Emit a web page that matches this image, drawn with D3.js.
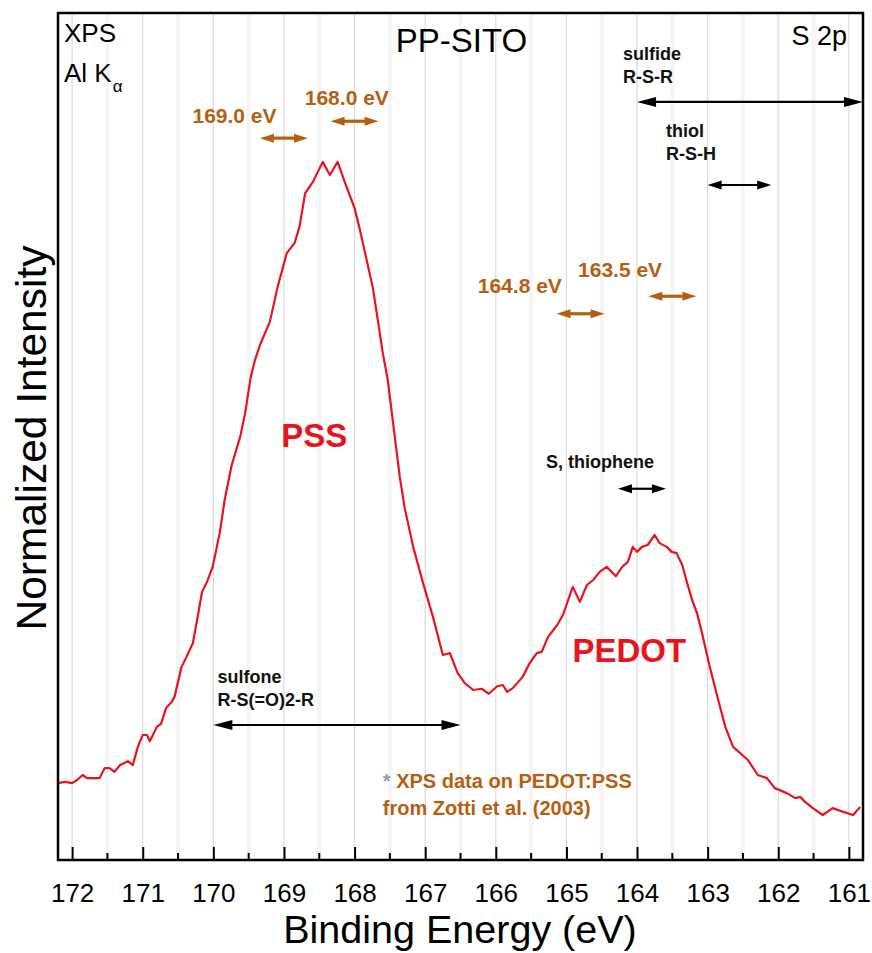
<!DOCTYPE html>
<html>
<head>
<meta charset="utf-8">
<script src="https://cdn.jsdelivr.net/npm/d3@7"></script>
<style>
  body { margin: 0; background: #fff; }
  text { font-family: "Liberation Sans", Arial, sans-serif; }
</style>
</head>
<body>
<div id="chart"></div>
<script>
// S 2p spectrum, binding energy (eV) and normalized intensity
var energy = [172.20,172.10,172.00,171.93,171.85,171.79,171.61,171.54,171.47,171.40,
  171.32,171.21,171.14,171.07,171.00,170.94,170.90,170.80,170.74,170.67,
  170.59,170.55,170.45,170.38,170.29,170.23,170.16,170.09,170.01,169.91,
  169.84,169.74,169.62,169.55,169.47,169.41,169.34,169.20,169.09,168.96,
  168.85,168.78,168.70,168.59,168.45,168.35,168.24,168.14,168.00,167.93,
  167.74,167.60,167.53,167.36,167.29,167.17,167.03,166.89,166.75,166.65,
  166.54,166.44,166.32,166.20,166.10,165.98,165.90,165.84,165.76,165.62,
  165.52,165.42,165.35,165.26,165.13,165.05,164.91,164.81,164.71,164.62,
  164.53,164.43,164.30,164.21,164.13,164.06,164.00,163.93,163.85,163.75,
  163.68,163.58,163.51,163.44,163.36,163.29,163.22,163.15,163.08,162.97,
  162.85,162.75,162.64,162.51,162.43,162.29,162.16,162.05,161.88,161.76,
  161.69,161.62,161.51,161.37,161.23,161.08,160.94,160.84];
var intensity = [0.003,0.005,0.003,0.008,0.016,0.011,0.011,0.027,0.027,0.021,
  0.032,0.038,0.032,0.061,0.080,0.080,0.070,0.093,0.098,0.123,
  0.133,0.141,0.189,0.205,0.227,0.264,0.309,0.325,0.349,0.403,
  0.456,0.512,0.557,0.595,0.653,0.680,0.704,0.741,0.797,0.851,
  0.867,0.893,0.947,0.965,0.997,0.976,0.997,0.965,0.923,0.891,
  0.795,0.691,0.648,0.493,0.443,0.381,0.323,0.269,0.208,0.211,
  0.179,0.163,0.152,0.154,0.146,0.158,0.160,0.149,0.155,0.173,
  0.195,0.211,0.213,0.237,0.256,0.272,0.317,0.293,0.320,0.328,
  0.341,0.349,0.334,0.349,0.357,0.381,0.373,0.381,0.384,0.400,
  0.387,0.381,0.373,0.371,0.352,0.323,0.296,0.275,0.243,0.189,
  0.136,0.093,0.061,0.048,0.040,0.016,0.011,-0.005,-0.013,-0.021,
  -0.019,-0.027,-0.037,-0.048,-0.037,-0.043,-0.048,-0.035];

var majorTicks = [172,171,170,169,168,167,166,165,164,163,162,161];
var minorTicks = [171.5,170.5,169.5,168.5,167.5,166.5,165.5,164.5,163.5,162.5,161.5];

// chemical shift markers (orange)
var shiftLabels  = ["169.0 eV","168.0 eV","164.8 eV","163.5 eV"];
var shiftCenters = [169.0, 168.0, 164.8, 163.5];
var shiftArrowI  = [1.035, 1.062, 0.754, 0.782];
var shiftLabelE  = [169.70, 168.11, 165.66, 164.24];
var shiftLabelI  = [1.059, 1.088, 0.787, 0.813];
var shiftHalf = 0.34;

// sulfur species ranges (black)
var groupNames  = [["sulfide","R-S-R"],["thiol","R-S-H"],["S, thiophene"],["sulfone","R-S(=O)2-R"]];
var groupFrom   = [164.0, 163.0, 164.27, 170.0];
var groupTo     = [160.8, 162.1, 163.59, 166.5];
var groupArrowI = [1.093, 0.960, 0.474, 0.096];
var groupLabelE = [164.20, 163.59, 165.29, 169.94];
var groupLabelI = [1.160, 1.037, 0.507, 0.163];

var peakNames = ["PSS","PEDOT"];
var peakE = [168.57, 164.11];
var peakI = [0.541, 0.197];

var noteLines = ["XPS data on PEDOT:PSS","from Zotti et al. (2003)"];
var noteE = 167.60, noteI = [-0.005, -0.048];

var W = 872, H = 953;
var margin = {top: 13, right: 9, bottom: 93, left: 58};
var iw = W - margin.left - margin.right,
    ih = H - margin.top - margin.bottom;

var orange = "#b65f12", red = "#e8141c";

var svg = d3.select("#chart").append("svg")
    .attr("width", W)
    .attr("height", H);

var g = svg.append("g")
    .attr("transform", "translate(" + margin.left + "," + margin.top + ")");

var x = d3.scaleLinear().domain([172.2, 160.8]).range([0, iw]);
var y = d3.scaleLinear().domain([-0.12, 1.2352]).range([ih, 0]);

// grid
g.selectAll(".minorgrid").data(minorTicks).enter().append("line")
    .attr("x1", d => x(d)).attr("x2", d => x(d))
    .attr("y1", 0).attr("y2", ih)
    .attr("stroke", "#f5f5f5").attr("stroke-width", 4);
g.selectAll(".majorgrid").data(majorTicks).enter().append("line")
    .attr("x1", d => x(d)).attr("x2", d => x(d))
    .attr("y1", 0).attr("y2", ih)
    .attr("stroke", "#dadada").attr("stroke-width", 1.2);

// spectrum
var pts = energy.map((e, i) => [e, intensity[i]]);
var line = d3.line().x(d => x(d[0])).y(d => y(d[1]));
g.append("path")
    .datum(pts)
    .attr("d", line)
    .attr("fill", "none")
    .attr("stroke", red)
    .attr("stroke-width", 2.2)
    .attr("stroke-linejoin", "round");

// double headed arrow
function arrow(x1, x2, yy, color, sw, hl, hh) {
  var a = g.append("g");
  a.append("line")
    .attr("x1", x1 + hl * 0.7).attr("x2", x2 - hl * 0.7)
    .attr("y1", yy).attr("y2", yy)
    .attr("stroke", color).attr("stroke-width", sw);
  a.append("path")
    .attr("d", "M" + x1 + "," + yy + "L" + (x1 + hl) + "," + (yy - hh) + "L" + (x1 + hl) + "," + (yy + hh) + "Z")
    .attr("fill", color);
  a.append("path")
    .attr("d", "M" + x2 + "," + yy + "L" + (x2 - hl) + "," + (yy - hh) + "L" + (x2 - hl) + "," + (yy + hh) + "Z")
    .attr("fill", color);
}

shiftCenters.forEach(function (c, i) {
  arrow(x(c + shiftHalf), x(c - shiftHalf), y(shiftArrowI[i]), orange, 3.2, 14, 4.5);
  g.append("text")
    .attr("x", x(shiftLabelE[i])).attr("y", y(shiftLabelI[i]))
    .attr("text-anchor", "middle")
    .attr("font-size", 21).attr("font-weight", "bold")
    .attr("fill", orange)
    .text(shiftLabels[i]);
});

groupFrom.forEach(function (f, i) {
  var x1 = x(f), x2 = x(groupTo[i]);
  var big = (x2 - x1) > 100;
  arrow(x1, x2, y(groupArrowI[i]), "#000", 2.2, big ? 19 : 14, big ? 5 : 4.5);
  var t = g.append("text")
    .attr("x", x(groupLabelE[i])).attr("y", y(groupLabelI[i]))
    .attr("font-size", 18).attr("font-weight", "bold")
    .attr("fill", "#111");
  groupNames[i].forEach(function (s, k) {
    t.append("tspan").attr("x", x(groupLabelE[i])).attr("dy", k ? 23 : 0).text(s);
  });
});

peakNames.forEach(function (p, i) {
  g.append("text")
    .attr("x", x(peakE[i])).attr("y", y(peakI[i]))
    .attr("text-anchor", "middle")
    .attr("font-size", 33).attr("font-weight", "bold")
    .attr("fill", red)
    .text(p);
});

var note = g.append("text")
    .attr("x", x(noteE)).attr("y", y(noteI[0]))
    .attr("font-size", 20).attr("font-weight", "bold");
note.append("tspan").attr("fill", "#999").text("* ");
note.append("tspan").attr("fill", orange).text(noteLines[0]);
g.append("text")
    .attr("x", x(noteE)).attr("y", y(noteI[1]))
    .attr("font-size", 20).attr("font-weight", "bold")
    .attr("fill", orange)
    .text(noteLines[1]);

// corner labels
g.append("text").attr("x", 6).attr("y", 29).attr("font-size", 26).text("XPS");
var al = g.append("text").attr("x", 6).attr("y", 69).attr("font-size", 26).text("Al K");
al.append("tspan").attr("font-size", 17).attr("dy", 10).attr("dx", 1).text("α");
g.append("text").attr("x", iw / 2 + 1).attr("y", 39)
    .attr("text-anchor", "middle").attr("font-size", 33).text("PP-SITO");
g.append("text").attr("x", iw - 16).attr("y", 32)
    .attr("text-anchor", "end").attr("font-size", 27).text("S 2p");

// bottom axis, ticks pointing inward
var xAxis = d3.axisBottom(x).tickValues(majorTicks).tickSize(-13).tickPadding(24)
    .tickFormat(d3.format("d"));
var ax = g.append("g").attr("transform", "translate(0," + ih + ")").call(xAxis);
ax.select(".domain").remove();
ax.selectAll(".tick line").attr("stroke", "#000").attr("stroke-width", 2);
ax.selectAll(".tick text").attr("font-size", 26).attr("fill", "#000")
    .attr("font-family", "\"Liberation Sans\", Arial, sans-serif");

g.selectAll(".minortick").data(minorTicks).enter().append("line")
    .attr("x1", d => x(d)).attr("x2", d => x(d))
    .attr("y1", ih).attr("y2", ih - 7)
    .attr("stroke", "#000").attr("stroke-width", 2);

// frame
g.append("rect")
    .attr("width", iw).attr("height", ih)
    .attr("fill", "none").attr("stroke", "#000").attr("stroke-width", 2.5);

// axis titles
svg.append("text")
    .attr("x", 460).attr("y", 943)
    .attr("text-anchor", "middle").attr("font-size", 39.5)
    .text("Binding Energy (eV)");
svg.append("text")
    .attr("transform", "translate(46,438) rotate(-90)")
    .attr("text-anchor", "middle").attr("font-size", 42.5)
    .text("Normalized Intensity");
</script>
</body>
</html>
